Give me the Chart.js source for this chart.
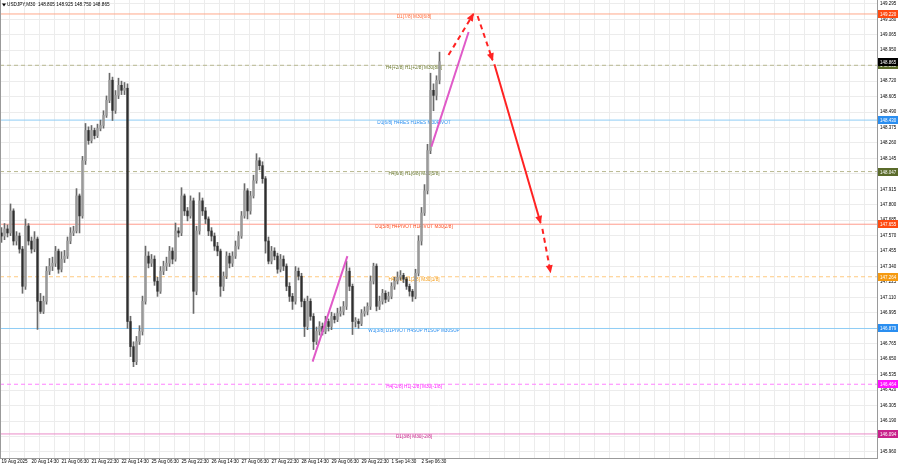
<!DOCTYPE html>
<html>
<head>
<meta charset="utf-8">
<script src="https://cdn.jsdelivr.net/npm/chart.js@4.4.1/dist/chart.umd.min.js"></script>
<style>
  html, body { margin: 0; padding: 0; background: #fff; }
  #wrap { width: 900px; height: 468px; }
</style>
</head>
<body>
<div id="wrap"><canvas id="chart" width="900" height="468"></canvas></div>
<script>
// USDJPY M30 candles, one entry per bar slot
const openP = [
  147.590,147.567,147.620,147.590,147.754,147.530,147.567,147.470,147.193,147.642,
  147.530,147.470,147.545,147.081,147.006,147.081,147.305,147.343,147.365,147.455,
  147.320,147.395,147.418,147.530,147.590,147.605,147.866,147.717,148.128,148.353,
  148.278,148.353,148.315,148.368,148.390,148.465,148.577,148.727,148.502,148.614,
  148.689,148.652,148.667,146.931,146.744,146.632,146.782,146.857,147.081,147.418,
  147.365,147.395,147.231,147.156,147.305,147.343,147.365,147.455,147.395,147.605,
  147.590,147.866,147.754,147.717,147.829,147.156,147.605,147.829,147.754,147.694,
  147.605,147.567,147.492,147.455,147.193,147.268,147.418,147.365,147.418,147.492,
  147.567,147.717,147.904,147.754,147.866,147.979,148.128,148.091,147.994,147.530,
  147.380,147.455,147.418,147.320,147.395,147.343,147.193,147.118,147.081,147.305,
  147.268,147.081,146.894,147.081,146.969,146.782,146.857,146.894,146.857,146.931,
  146.894,146.969,146.946,146.991,147.006,147.044,147.305,147.193,146.931,146.931,
  146.916,146.991,147.006,147.044,147.231,147.343,147.044,147.081,147.141,147.096,
  147.118,147.193,147.231,147.261,147.275,147.246,147.193,147.156,147.118,147.290,
  147.530,147.739,147.904,148.203,148.652,148.614,148.727
];
const highP = [
  147.630,147.660,147.650,147.806,147.770,147.600,147.590,147.490,147.694,147.660,
  147.560,147.600,147.560,147.140,147.120,147.340,147.400,147.410,147.490,147.470,
  147.450,147.460,147.560,147.630,147.640,147.920,147.880,148.160,148.405,148.380,
  148.390,148.370,148.400,148.430,148.500,148.610,148.779,148.750,148.650,148.742,
  148.720,148.710,148.700,146.970,146.780,146.820,146.900,147.120,147.492,147.450,
  147.430,147.420,147.260,147.340,147.380,147.410,147.490,147.480,147.664,147.630,
  147.927,147.880,147.780,147.866,147.850,147.640,147.890,147.850,147.780,147.710,
  147.630,147.590,147.520,147.470,147.300,147.450,147.440,147.450,147.530,147.600,
  147.750,147.957,147.920,147.900,148.020,148.180,148.150,148.120,148.010,147.560,
  147.490,147.480,147.440,147.430,147.420,147.360,147.220,147.140,147.340,147.330,
  147.290,147.100,147.120,147.100,146.990,146.890,146.930,146.920,146.970,146.950,
  147.000,146.990,147.030,147.040,147.080,147.380,147.330,147.210,146.960,146.950,
  147.020,147.040,147.070,147.270,147.365,147.360,147.120,147.170,147.160,147.150,
  147.220,147.260,147.300,147.310,147.290,147.260,147.210,147.170,147.320,147.570,
  147.780,147.950,148.250,148.779,148.700,148.760,148.936
];
const lowP = [
  147.520,147.540,147.560,147.570,147.500,147.500,147.440,147.141,147.170,147.500,
  147.440,147.450,146.872,146.991,146.990,147.060,147.280,147.310,147.340,147.290,
  147.300,147.370,147.400,147.510,147.570,147.590,147.590,147.700,148.100,148.250,
  148.260,148.290,148.300,148.350,148.370,148.450,148.560,148.427,148.480,148.590,
  148.620,148.620,146.880,146.670,146.595,146.610,146.760,146.830,147.060,147.330,
  147.340,147.200,147.118,147.140,147.280,147.310,147.340,147.360,147.380,147.560,
  147.570,147.720,147.680,147.700,146.991,147.130,147.580,147.720,147.660,147.570,
  147.530,147.460,147.420,147.118,147.160,147.250,147.330,147.340,147.400,147.470,
  147.550,147.700,147.694,147.730,147.850,147.960,148.060,147.960,147.440,147.360,
  147.360,147.390,147.290,147.300,147.310,147.160,147.080,147.021,147.060,147.240,
  147.040,146.819,146.870,146.940,146.722,146.760,146.830,146.830,146.840,146.860,
  146.870,146.920,146.930,146.970,146.980,147.020,147.160,146.834,146.890,146.880,
  146.900,146.970,146.980,147.020,147.210,147.010,147.020,147.060,147.070,147.080,
  147.100,147.170,147.210,147.240,147.220,147.170,147.120,147.081,147.100,147.270,
  147.500,147.720,147.880,148.180,148.500,148.580,148.700
];
const closeP = [
  147.567,147.620,147.590,147.754,147.530,147.567,147.470,147.193,147.642,147.530,
  147.470,147.545,147.081,147.006,147.081,147.305,147.343,147.365,147.455,147.320,
  147.395,147.418,147.530,147.590,147.605,147.866,147.717,148.128,148.353,148.278,
  148.353,148.315,148.368,148.390,148.465,148.577,148.727,148.502,148.614,148.689,
  148.652,148.667,146.931,146.744,146.632,146.782,146.857,147.081,147.418,147.365,
  147.395,147.231,147.156,147.305,147.343,147.365,147.455,147.395,147.605,147.590,
  147.866,147.754,147.717,147.829,147.156,147.605,147.829,147.754,147.694,147.605,
  147.567,147.492,147.455,147.193,147.268,147.418,147.365,147.418,147.492,147.567,
  147.717,147.904,147.754,147.866,147.979,148.128,148.091,147.994,147.530,147.380,
  147.455,147.418,147.320,147.395,147.343,147.193,147.118,147.081,147.305,147.268,
  147.081,146.894,147.081,146.969,146.782,146.857,146.894,146.857,146.931,146.894,
  146.969,146.946,146.991,147.006,147.044,147.305,147.193,146.931,146.931,146.916,
  146.991,147.006,147.044,147.231,147.343,147.044,147.081,147.141,147.096,147.118,
  147.193,147.231,147.261,147.275,147.246,147.193,147.156,147.118,147.290,147.530,
  147.739,147.904,148.203,148.652,148.614,148.727,148.865
];

const timeLabels = ['19 Aug 2025', '20 Aug 14:30', '21 Aug 06:30', '21 Aug 22:30', '22 Aug 14:30',
  '25 Aug 06:30', '25 Aug 22:30', '26 Aug 14:30', '27 Aug 06:30', '27 Aug 22:30',
  '28 Aug 14:30', '29 Aug 06:30', '29 Aug 22:30', '1 Sep 14:30', '2 Sep 06:30'];

const priceTicks = [145.960, 146.075, 146.190, 146.305, 146.420, 146.535, 146.650, 146.765, 146.880, 146.995,
  147.110, 147.225, 147.340, 147.455, 147.570, 147.685, 147.800, 147.915, 148.030, 148.145,
  148.260, 148.375, 148.490, 148.605, 148.720, 148.835, 148.950, 149.065, 149.180, 149.295];

// murrey levels
const levelPrices = [149.220, 148.838, 148.430, 148.047, 147.655, 147.264, 146.879, 146.464, 146.094];
const levelTexts = [
  'D1[7/8] M30[6/8]',
  'H4[+2/8] H1[+2/8] M30[8/8]',
  'D1[6/8] H4RES H1RES M30PIVOT',
  'H4[6/8] H1[6/8] M30[5/8]',
  'D1[5/8] H4PIVOT H1PIVOT M30[2/8]',
  'H4[2/8] H1[2/8] M30[1/8]',
  'W1[3/8] D1PIVOT H4SUP H1SUP M30SUP',
  'H4[-2/8] H1[-2/8] M30[-1/8]',
  'D1[3/8] M30[-2/8]'
];
const symbolTitle = 'USDJPY,M30  148.805 148.925 148.750 148.865';
const lastPrice = 148.865;

// hand drawn trend lines and forecast arrows: [bar, price] pairs
const trendUp1 = [[103.7, 146.632], [115.3, 147.418]];
const trendUp2 = [[143.3, 148.233], [155.7, 149.086]];
const arrowUp = [[149.0, 148.914], [157.3, 149.220]];
const arrowDown1 = [[158.7, 149.205], [163.7, 148.876]];
const arrowDown2 = [[164.3, 148.846], [179.7, 147.664]];
const arrowDown3 = [[180.3, 147.620], [183.0, 147.298]];

// styles
const levelStyle = [
  { line: '#ffa98a', dash: [],     text: '#ff6a3a', box: '#ff4a10' },
  { line: '#b8b890', dash: [4, 3], text: '#6b7a2f', box: '#5a6b2a' },
  { line: '#8fcdf5', dash: [],     text: '#2a8ef0', box: '#2a8ef0' },
  { line: '#b8b890', dash: [4, 3], text: '#6b7a2f', box: '#5a6b2a' },
  { line: '#ff9c8c', dash: [],     text: '#ff4a1a', box: '#ff4a10' },
  { line: '#ffca80', dash: [4, 3], text: '#f59a10', box: '#f59a10' },
  { line: '#8fcdf5', dash: [],     text: '#2a8ef0', box: '#2a8ef0' },
  { line: '#ff80ff', dash: [4, 3], text: '#ff20ff', box: '#ff10ff' },
  { line: '#ea8cc8', dash: [],     text: '#c8208a', box: '#c8208a' }
];
const X_MIN = -0.5, X_MAX = 291.83;
const Y_MIN = 145.915, Y_MAX = 149.324;
const LEVEL_TEXT_AT = 137.5;
const FONT = '"Liberation Sans", Arial, sans-serif';

const pts = arr => arr.map(p => ({ x: p[0], y: p[1] }));

const datasets = [];

levelPrices.forEach((p, i) => {
  datasets.push({
    type: 'line',
    data: [{ x: X_MIN, y: p }, { x: X_MAX, y: p }],
    borderColor: levelStyle[i].line,
    borderDash: levelStyle[i].dash,
    borderWidth: 1,
    pointRadius: 0,
    order: 10
  });
});

datasets.push({
  type: 'bar',
  data: highP.map((h, i) => ({ x: i, y: [lowP[i], h] })),
  backgroundColor: '#6a6a6a',
  barThickness: 1,
  grouped: false,
  order: 5
});
datasets.push({
  type: 'bar',
  data: openP.map((o, i) => ({ x: i, y: [Math.min(o, closeP[i]), Math.max(o, closeP[i])] })),
  backgroundColor: openP.map((o, i) => closeP[i] >= o ? '#9a9a9a' : '#2e2e2e'),
  barThickness: 1.6,
  minBarLength: 1,
  grouped: false,
  order: 4
});

[trendUp1, trendUp2].forEach(t => datasets.push({
  type: 'line', data: pts(t), borderColor: '#e05ac8', borderWidth: 2, pointRadius: 0, order: 2
}));
[[arrowUp, [5, 4]], [arrowDown1, [5, 4]], [arrowDown2, []], [arrowDown3, [5, 4]]].forEach(a => datasets.push({
  type: 'line', data: pts(a[0]), borderColor: '#ff2222', borderWidth: 2, borderDash: a[1],
  pointRadius: 0, order: 1, arrowHead: true
}));

const overlay = {
  id: 'overlay',
  beforeDatasetsDraw(chart) {
    const { ctx, scales: { x, y } } = chart;
    ctx.save();
    ctx.font = '4.7px ' + FONT;
    ctx.textAlign = 'center';
    ctx.textBaseline = 'middle';
    levelPrices.forEach((p, i) => {
      ctx.fillStyle = levelStyle[i].text;
      ctx.fillText(levelTexts[i], x.getPixelForValue(LEVEL_TEXT_AT), y.getPixelForValue(p) + 2.5);
    });
    ctx.restore();
  },
  afterDatasetsDraw(chart) {
    const ctx = chart.ctx;
    chart.data.datasets.forEach((ds, di) => {
      if (!ds.arrowHead) return;
      const pts = chart.getDatasetMeta(di).data;
      const a = pts[pts.length - 2], b = pts[pts.length - 1];
      const ang = Math.atan2(b.y - a.y, b.x - a.x);
      ctx.save();
      ctx.translate(b.x, b.y);
      ctx.rotate(ang);
      ctx.fillStyle = ds.borderColor;
      ctx.beginPath();
      ctx.moveTo(1, 0);
      ctx.lineTo(-7, -3.5);
      ctx.lineTo(-7, 3.5);
      ctx.closePath();
      ctx.fill();
      ctx.restore();
    });
  },
  afterDraw(chart) {
    const { ctx, chartArea, scales: { y } } = chart;
    ctx.save();
    // frame
    ctx.strokeStyle = '#9a9a9a';
    ctx.lineWidth = 1;
    ctx.beginPath();
    ctx.moveTo(chartArea.left + 0.5, chartArea.top);
    ctx.lineTo(chartArea.left + 0.5, chartArea.bottom);
    ctx.stroke();
    // price boxes on the axis
    ctx.font = '4.5px ' + FONT;
    ctx.textBaseline = 'middle';
    ctx.textAlign = 'left';
    const boxes = levelPrices.map((p, i) => ({ p, c: levelStyle[i].box }));
    boxes.push({ p: lastPrice, c: '#000000' });
    boxes.forEach(b => {
      const py = Math.round(y.getPixelForValue(b.p));
      ctx.fillStyle = b.c;
      ctx.fillRect(chartArea.right + 1, py - 4, 20, 8);
      ctx.fillStyle = '#ffffff';
      ctx.fillText(b.p.toFixed(3), chartArea.right + 3, py + 0.5);
    });
    // title
    ctx.fillStyle = '#000';
    ctx.font = '4.7px ' + FONT;
    ctx.fillText(symbolTitle, 7, 5);
    ctx.beginPath();
    ctx.moveTo(2, 3.5); ctx.lineTo(6, 3.5); ctx.lineTo(4, 6.5); ctx.closePath();
    ctx.fill();
    ctx.restore();
  }
};

new Chart(document.getElementById('chart').getContext('2d'), {
  data: { datasets },
  plugins: [overlay],
  options: {
    responsive: false,
    animation: false,
    layout: { padding: 0 },
    plugins: { legend: { display: false }, tooltip: { enabled: false } },
    scales: {
      x: {
        type: 'linear',
        min: X_MIN,
        max: X_MAX,
        offset: false,
        afterFit: s => { s.height = 10; s.paddingLeft = 0; s.paddingRight = 0; },
        afterBuildTicks: s => {
          const t = [];
          for (let v = 0; v <= 290; v += 5) t.push({ value: v });
          s.ticks = t;
        },
        ticks: {
          autoSkip: false,
          maxRotation: 0,
          align: 'start',
          padding: 1,
          color: '#000',
          font: { size: 4.6, family: FONT },
          callback: v => (v % 10 === 0 && timeLabels[v / 10]) ? timeLabels[v / 10] : ''
        },
        grid: { color: '#ececec', drawTicks: false },
        border: { color: '#9a9a9a' }
      },
      y: {
        type: 'linear',
        position: 'right',
        min: Y_MIN,
        max: Y_MAX,
        afterFit: s => { s.width = 23; s.paddingTop = 0; s.paddingBottom = 0; },
        afterBuildTicks: s => { s.ticks = priceTicks.map(v => ({ value: v })); },
        ticks: {
          padding: 3,
          color: '#000',
          font: { size: 4.5, family: FONT },
          callback: v => v.toFixed(3)
        },
        grid: { color: '#ececec', drawTicks: false },
        border: { color: '#9a9a9a' }
      }
    }
  }
});
</script>
</body>
</html>
